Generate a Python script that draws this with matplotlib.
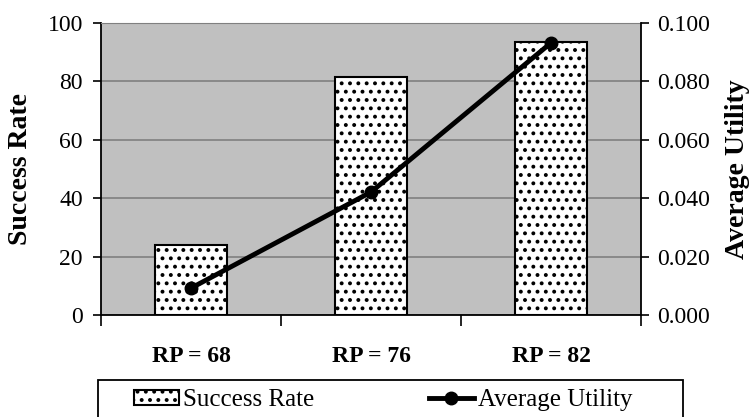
import matplotlib
matplotlib.use("Agg")
import matplotlib.pyplot as plt
from matplotlib.patches import Rectangle
from matplotlib.ticker import FixedLocator, FormatStrFormatter

categories = ["RP = 68", "RP = 76", "RP = 82"]
success_rate = [24.0, 81.5, 93.5]
average_utility = [0.0092, 0.0421, 0.0932]

plt.rcParams["font.family"] = ["Liberation Serif", "DejaVu Serif"]
plt.rcParams["hatch.linewidth"] = 1.6

W, H = 749, 417
fig = plt.figure(figsize=(W / 100, H / 100), dpi=100)
ax = fig.add_axes([101 / W, 1 - 315 / H, 540 / W, 292 / H])
ax.set_facecolor("#c0c0c0")

x = list(range(len(categories)))
bars = ax.bar(x, success_rate, width=0.4, color="white", edgecolor="black",
              linewidth=1.5, hatch="..", label="Success Rate", zorder=3)

ax.set_xlim(-0.5, len(categories) - 0.5)
ax.set_ylim(0, 100)
ax.set_yticks([0, 20, 40, 60, 80, 100])
ax.yaxis.grid(True, color="#808080", linewidth=1.2, zorder=0)
ax.set_axisbelow(True)

# category boundaries carry the tick marks, centres carry the labels
ax.xaxis.set_major_locator(FixedLocator([i - 0.5 for i in range(len(categories) + 1)]))
ax.xaxis.set_major_formatter(plt.NullFormatter())
ax.xaxis.set_minor_locator(FixedLocator(x))
ax.set_xticklabels(categories, minor=True, fontweight="bold", fontsize=17)
ax.tick_params(axis="x", which="major", direction="out", length=8, width=1.2)
ax.tick_params(axis="x", which="minor", length=0, pad=22)
ax.tick_params(axis="y", direction="out", length=6, width=1.2, labelsize=17, pad=7)

for side in ("left", "bottom"):
    ax.spines[side].set_linewidth(1.3)
ax.spines["top"].set_color("#808080")
ax.spines["right"].set_visible(False)

ax.set_ylabel("Success Rate", fontsize=20, fontweight="bold")
ax.yaxis.set_label_coords(-0.126, 0.5)

ax2 = ax.twinx()
ax2.plot(x, average_utility, color="black", linewidth=3.5, marker="o",
         markersize=9, label="Average Utility", zorder=4)
ax2.set_ylim(0, 0.1)
ax2.set_yticks([0, 0.02, 0.04, 0.06, 0.08, 0.1])
ax2.yaxis.set_major_formatter(FormatStrFormatter("%.3f"))
ax2.tick_params(axis="y", direction="out", length=6, width=1.2, labelsize=17, pad=5.5)
ax2.spines["right"].set_linewidth(1.3)
for side in ("top", "left", "bottom"):
    ax2.spines[side].set_visible(False)
ax2.set_ylabel("Average Utility", fontsize=20, fontweight="bold", rotation=90)
ax2.yaxis.set_label_coords(1.156, 0.5)

# legend in a framed box along the bottom edge
fig.patches.append(Rectangle((98 / W, -0.05), 585 / W, 0.05 + (417 - 380) / H,
                             transform=fig.transFigure, facecolor="white",
                             edgecolor="black", linewidth=1.3, zorder=0))
handles = [bars, ax2.lines[0]]
fig.legend(handles, [h.get_label() for h in handles], loc="center",
           bbox_to_anchor=(383 / W, 1 - 400 / H), ncol=2, frameon=False,
           fontsize=18, handlelength=1.8, handleheight=0.56, handletextpad=0.15,
           columnspacing=4.6, borderpad=0)

fig.savefig("out.png", dpi=100)
